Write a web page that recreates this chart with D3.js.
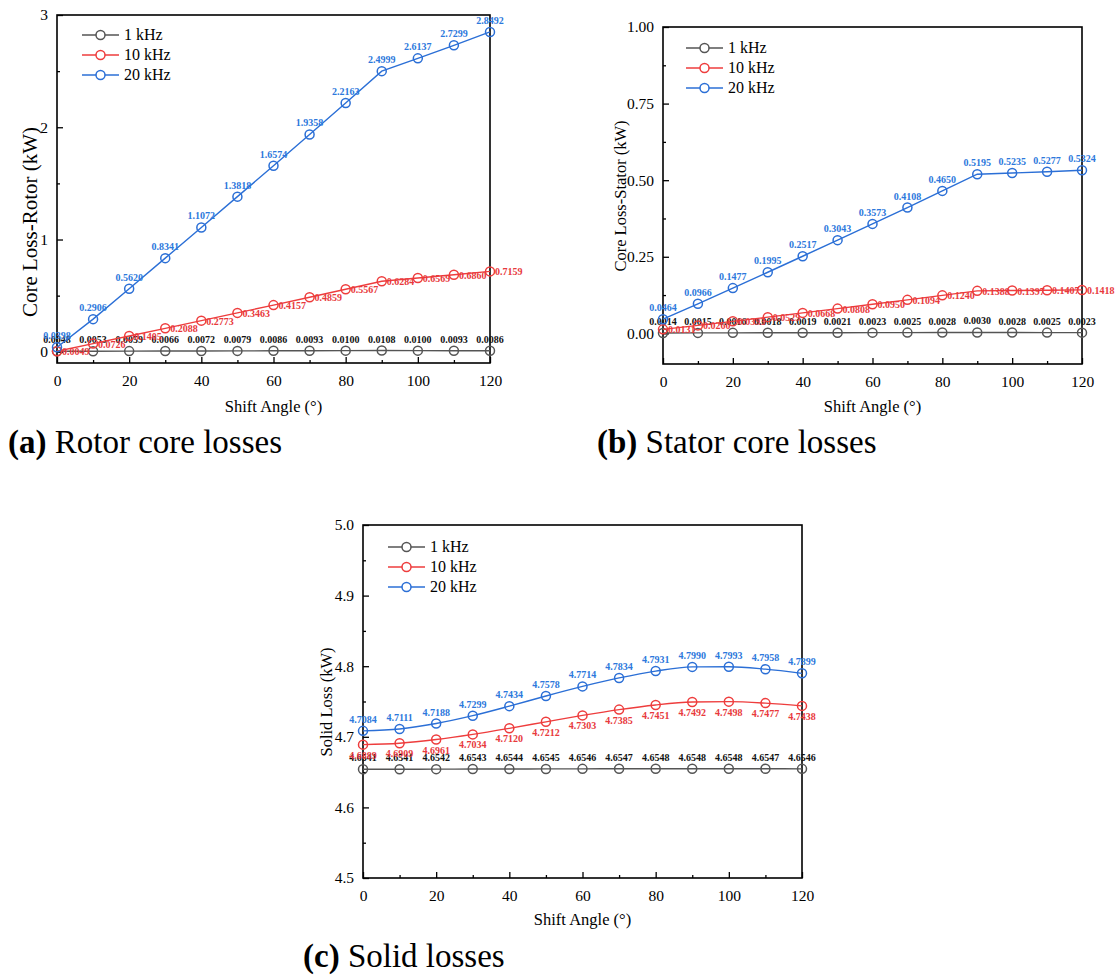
<!DOCTYPE html>
<html>
<head>
<meta charset="utf-8">
<script src="https://cdn.jsdelivr.net/npm/d3@7"></script>
<style>
  body { margin: 0; background: #fff; }
  svg text { font-family: "Liberation Serif", "Times New Roman", serif; }
</style>
</head>
<body>
<svg id="canvas" width="1115" height="976"></svg>
<script>
// shift angles (deg)
var angles = [0, 10, 20, 30, 40, 50, 60, 70, 80, 90, 100, 110, 120];
var seriesNames = ["1 kHz", "10 kHz", "20 kHz"];

// (a) rotor core loss, kW
var rotor1k = [0.0048, 0.0053, 0.0059, 0.0066, 0.0072, 0.0079, 0.0086, 0.0093, 0.0100, 0.0108, 0.0100, 0.0093, 0.0086];
var rotor10k = [0.0049, 0.0726, 0.1405, 0.2088, 0.2773, 0.3463, 0.4157, 0.4859, 0.5567, 0.6284, 0.6569, 0.6860, 0.7159];
var rotor20k = [0.0398, 0.2906, 0.5620, 0.8341, 1.1072, 1.3818, 1.6574, 1.9358, 2.2163, 2.4999, 2.6137, 2.7299, 2.8492];

// (b) stator core loss, kW
var stator1k = [0.0014, 0.0015, 0.0016, 0.0018, 0.0019, 0.0021, 0.0023, 0.0025, 0.0028, 0.0030, 0.0028, 0.0025, 0.0023];
var stator10k = [0.0131, 0.0260, 0.0393, 0.0529, 0.0668, 0.0808, 0.0950, 0.1094, 0.1240, 0.1388, 0.1397, 0.1407, 0.1418];
var stator20k = [0.0464, 0.0966, 0.1477, 0.1995, 0.2517, 0.3043, 0.3573, 0.4108, 0.4650, 0.5195, 0.5235, 0.5277, 0.5324];

// (c) solid loss, kW
var solid1k = [4.6541, 4.6541, 4.6542, 4.6543, 4.6544, 4.6545, 4.6546, 4.6547, 4.6548, 4.6548, 4.6548, 4.6547, 4.6546];
var solid10k = [4.6889, 4.6909, 4.6961, 4.7034, 4.7120, 4.7212, 4.7303, 4.7385, 4.7451, 4.7492, 4.7498, 4.7477, 4.7438];
var solid20k = [4.7084, 4.7111, 4.7188, 4.7299, 4.7434, 4.7578, 4.7714, 4.7834, 4.7931, 4.7990, 4.7993, 4.7958, 4.7899];

var xMajor = [0, 20, 40, 60, 80, 100, 120];
var xMinor = [10, 30, 50, 70, 90, 110];

var lineColors = ["#555555", "#ee3d3d", "#2b6fd6"];
var labelColors = ["#111111", "#e8393c", "#2c78dc"];
var serif = "'Liberation Serif', 'Times New Roman', serif";

var svg = d3.select("#canvas");

function drawPanel(p) {
  var x = d3.scaleLinear().domain([0, 120]).range([p.x0, p.x1]);
  var y = d3.scaleLinear().domain(p.yDomain).range([p.yBot, p.yTop]);
  var g = svg.append("g");

  // inward ticks
  g.append("g").attr("transform", "translate(0," + p.yBot + ")")
    .call(d3.axisBottom(x).tickValues(xMajor).tickSize(-6).tickPadding(12).tickFormat(d3.format("d")));
  g.append("g").attr("transform", "translate(0," + p.yBot + ")")
    .call(d3.axisBottom(x).tickValues(xMinor).tickSize(-3).tickFormat(""));
  g.append("g").attr("transform", "translate(" + p.x0 + ",0)")
    .call(d3.axisLeft(y).tickValues(p.yMajor).tickSize(-6).tickPadding(9).tickFormat(d3.format(p.yFmt)));
  g.append("g").attr("transform", "translate(" + p.x0 + ",0)")
    .call(d3.axisLeft(y).tickValues(p.yMinor).tickSize(-3).tickFormat(""));
  g.selectAll(".domain").remove();
  g.selectAll("g").attr("font-family", serif);
  g.selectAll(".tick line").attr("stroke", "#000").attr("stroke-width", 1.3);
  g.selectAll(".tick text").attr("fill", "#000").style("font-size", "15.5px")
    .style("font-family", serif);

  g.append("rect")
    .attr("x", p.x0).attr("y", p.yTop)
    .attr("width", p.x1 - p.x0).attr("height", p.yBot - p.yTop)
    .attr("fill", "none").attr("stroke", "#000").attr("stroke-width", 1.6);

  var line = d3.line()
    .x(function(d) { return x(d[0]); })
    .y(function(d) { return y(d[1]); })
    .curve(p.smooth ? d3.curveMonotoneX : d3.curveLinear);

  for (var s = 0; s < p.series.length; s++) {
    var pts = angles.map(function(a, i) { return [a, p.series[s][i]]; });
    g.append("path").datum(pts).attr("d", line)
      .attr("fill", "none").attr("stroke", lineColors[s]).attr("stroke-width", 1.4);
    g.selectAll(null).data(pts).enter().append("circle")
      .attr("cx", function(d) { return x(d[0]); })
      .attr("cy", function(d) { return y(d[1]); })
      .attr("r", 4.5)
      .attr("fill", "none").attr("stroke", lineColors[s]).attr("stroke-width", 1.5);
    var lp = p.labelPos[s];
    g.selectAll(null).data(pts).enter().append("text")
      .attr("x", function(d) { return x(d[0]) + lp.dx; })
      .attr("y", function(d) { return y(d[1]) + lp.dy; })
      .attr("text-anchor", lp.anchor)
      .attr("fill", labelColors[s])
      .style("font-family", serif)
      .style("font-size", "10px").style("font-weight", "bold")
      .text(function(d) { return d[1].toFixed(4); });
  }

  // legend
  for (var k = 0; k < 3; k++) {
    var ly = p.legY + k * 20;
    g.append("line").attr("x1", p.legX).attr("x2", p.legX + 37)
      .attr("y1", ly).attr("y2", ly)
      .attr("stroke", lineColors[k]).attr("stroke-width", 1.4);
    g.append("circle").attr("cx", p.legX + 18.5).attr("cy", ly).attr("r", 4.5)
      .attr("fill", "#fff").attr("stroke", lineColors[k]).attr("stroke-width", 1.5);
    g.append("text").attr("x", p.legX + 42).attr("y", ly + 5)
      .style("font-family", serif)
      .style("font-size", "16px").text(seriesNames[k]);
  }

  g.append("text")
    .attr("x", (p.x0 + p.x1) / 2).attr("y", p.xLabelY)
    .attr("text-anchor", "middle")
    .style("font-family", serif).style("font-size", "16.5px")
    .text("Shift Angle (°)");
  g.append("text")
    .attr("transform", "translate(" + p.yLabelX + "," + p.yLabelCy + ") rotate(-90)")
    .attr("text-anchor", "middle")
    .style("font-family", serif).style("font-size", p.yLabelSize)
    .text(p.yLabel);

  var cap = g.append("text").attr("x", p.capX).attr("y", p.capY)
    .style("font-size", "33px").style("font-family", serif);
  cap.append("tspan").style("font-weight", "bold").text(p.capTag);
  cap.append("tspan").style("font-weight", "normal").text(" " + p.capText);
}

var aboveLbl = { dx: 0, dy: -8, anchor: "middle" };
var rightLbl = { dx: 5, dy: 4, anchor: "start" };
var belowLbl = { dx: 0, dy: 14, anchor: "middle" };

drawPanel({
  x0: 57, x1: 490, yTop: 15, yBot: 363,
  yDomain: [-0.1, 3], yMajor: [0, 1, 2, 3], yMinor: [0.5, 1.5, 2.5], yFmt: "d",
  series: [rotor1k, rotor10k, rotor20k],
  labelPos: [aboveLbl, rightLbl, aboveLbl],
  smooth: false,
  legX: 82, legY: 35,
  xLabelY: 412, yLabel: "Core Loss-Rotor (kW)", yLabelX: 37, yLabelCy: 222, yLabelSize: "21px",
  capX: 8, capY: 453, capTag: "(a)", capText: "Rotor core losses"
});

drawPanel({
  x0: 663, x1: 1082, yTop: 27, yBot: 364,
  yDomain: [-0.1, 1], yMajor: [0, 0.25, 0.5, 0.75, 1], yMinor: [0.125, 0.375, 0.625, 0.875], yFmt: ".2f",
  series: [stator1k, stator10k, stator20k],
  labelPos: [aboveLbl, rightLbl, aboveLbl],
  smooth: false,
  legX: 686, legY: 48,
  xLabelY: 412, yLabel: "Core Loss-Stator (kW)", yLabelX: 626, yLabelCy: 196, yLabelSize: "16.5px",
  capX: 597, capY: 453, capTag: "(b)", capText: "Stator core losses"
});

drawPanel({
  x0: 363, x1: 802, yTop: 525, yBot: 878,
  yDomain: [4.5, 5.0], yMajor: [4.5, 4.6, 4.7, 4.8, 4.9, 5.0], yMinor: [4.55, 4.65, 4.75, 4.85, 4.95], yFmt: ".1f",
  series: [solid1k, solid10k, solid20k],
  labelPos: [aboveLbl, belowLbl, aboveLbl],
  smooth: true,
  legX: 388, legY: 547,
  xLabelY: 925, yLabel: "Solid Loss (kW)", yLabelX: 332, yLabelCy: 702, yLabelSize: "16.5px",
  capX: 303, capY: 967, capTag: "(c)", capText: "Solid losses"
});
</script>
</body>
</html>
